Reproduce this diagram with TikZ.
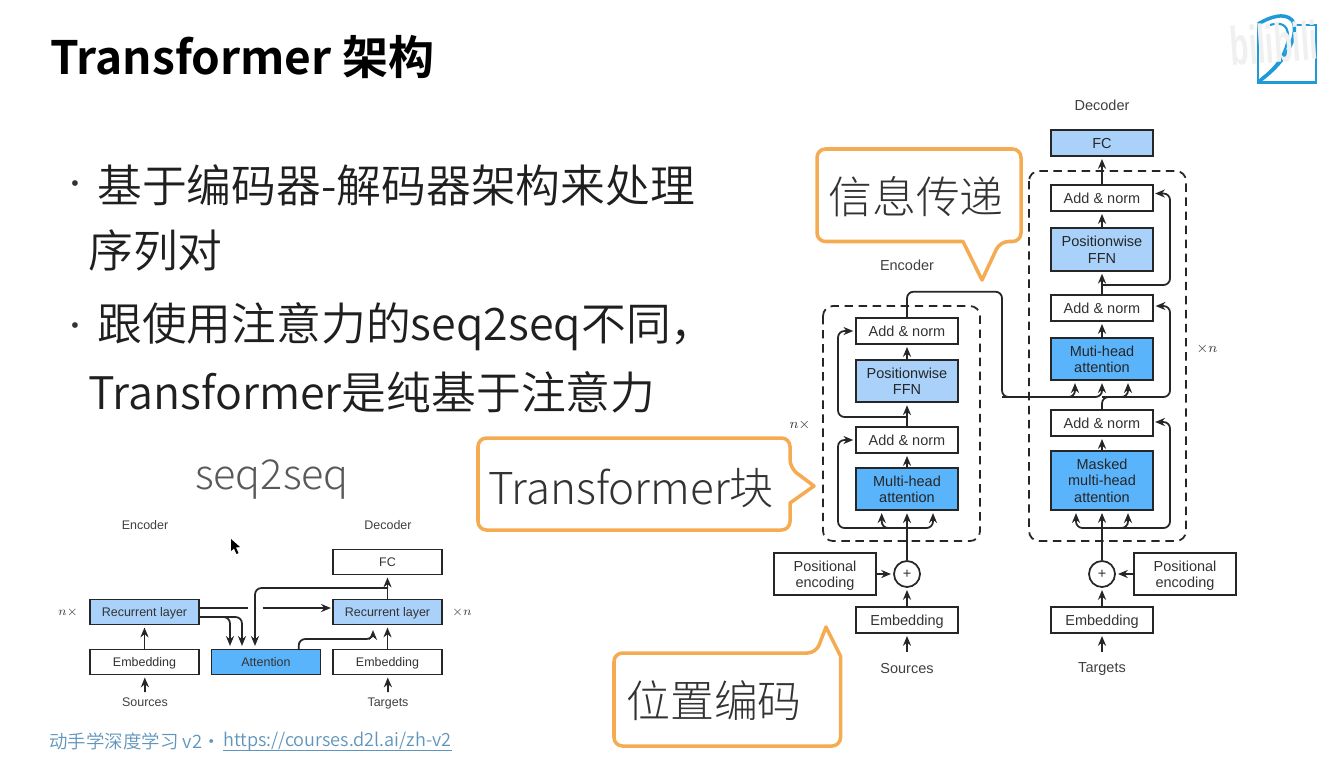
\documentclass[tikz,border=0pt]{standalone}
\usepackage{fontspec}
\usetikzlibrary{arrows.meta}
\setmainfont{Liberation Sans}
\newfontfamily\slidefont{Noto Sans CJK SC DemiLight}
\newfontfamily\boldfont{Noto Sans CJK SC Bold}
\newfontfamily\thinfont{Noto Sans CJK SC Light}
\definecolor{boxlight}{HTML}{A9D1FA}
\definecolor{boxdark}{HTML}{5AB4FC}
\definecolor{calloutc}{HTML}{F5AB52}
\definecolor{linkc}{HTML}{5F95BC}
\definecolor{logoc}{HTML}{1E9AD8}
\tikzset{
	wire/.style={line width=1pt, draw=black!85, rounded corners=0.13cm},
	arr/.style={wire, -{Stealth[length=5.6pt,width=4.6pt]}, shorten >=1.2pt},
	box/.style={draw=black!85, fill=white, line width=1pt, minimum width=2.03cm, minimum height=0.52cm, inner sep=0pt, align=center, text=black!80, text depth=0pt, font=\fontsize{8.25}{9.4}\selectfont},
	boxone/.style={box, fill=boxlight, text=black!85},
	boxtwo/.style={box, fill=boxdark, text=black!85},
	sbox/.style={box, minimum width=2.18cm, minimum height=0.5cm, font=\fontsize{7.1}{8.5}\selectfont},
	label/.style={inner sep=0pt, text=black!75, text depth=0pt, font=\fontsize{8.25}{9.4}\selectfont},
	slabel/.style={label, font=\fontsize{7.1}{8.5}\selectfont},
	dashbox/.style={line width=1pt, draw=black!85, dash pattern=on 4.8pt off 3.2pt, rounded corners=0.2cm},
	callout/.style={line width=2pt, draw=calloutc, fill=white, line join=round},
	calltext/.style={inner sep=0pt, text=black!80, font=\thinfont\fontsize{25}{30}\selectfont},
	slide/.style={anchor=west, inner sep=0pt, text=black!88, font=\slidefont\fontsize{25.5}{30}\selectfont},
	bulletdot/.style={inner sep=0pt, text=black!80, font=\fontsize{12}{14}\selectfont}
}

\begin{document}
\begin{tikzpicture}[x=0.02cm,y=-0.02cm]
	\useasboundingbox[fill=white] (0,0) rectangle (1339,758);
	
	%%%%% slide text %%%%%
	\node[slide, font=\boldfont\fontsize{26.2}{30}\selectfont, text=black] (title) at (50,57) {Transformer 架构};
	\node[bulletdot] (dot1) at (75,186) {•};
	\node[slide] (line1) at (97,185) {基于编码器-解码器架构来处理};
	\node[slide] (line2) at (88,250) {序列对};
	\node[bulletdot] (dot2) at (75,328) {•};
	\node[slide] (line3) at (97,327) {跟使用注意力的seq2seq不同，};
	\node[slide] (line4) at (88,392) {Transformer是纯基于注意力};
	\node[calltext, text=black!65, font=\thinfont\fontsize{23.5}{28}\selectfont] (seqtitle) at (272,479) {seq2seq};
	\node[slide, text=linkc, font=\slidefont\fontsize{10.5}{12}\selectfont] (foot) at (49,741) {动手学深度学习 v2・};
	\node[slide, text=linkc, font=\slidefont\fontsize{10.3}{12}\selectfont] (foot-url) at (223,741) {https://courses.d2l.ai/zh-v2};
	\draw[draw=linkc, line width=0.5pt] (foot-url.south west) -- (foot-url.south east);
	
	%%%%% seq2seq figure %%%%%
	\node[slabel] (s-enc) at (145,525) {Encoder};
	\node[slabel] (s-dec) at (388,525) {Decoder};
	\node[slabel] (s-n1) at (68,612) {\(n\times\)};
	\node[slabel] (s-n2) at (462,612) {\(\times n\)};
	\node[sbox, fill=boxlight] (s-rec1) at (144.5,612) {Recurrent layer};
	\node[sbox] (s-emb1) at (144.5,662) {Embedding};
	\node[sbox, fill=boxdark] (s-att) at (266,662) {Attention};
	\node[sbox] (s-fc) at (387.5,562) {FC};
	\node[sbox, fill=boxlight] (s-rec2) at (387.5,612) {Recurrent layer};
	\node[sbox] (s-emb2) at (387.5,662) {Embedding};
	\node[slabel] (s-src) at (145,702) {Sources};
	\node[slabel] (s-tgt) at (388,702) {Targets};
	
	\coordinate (s-in1) at (145,692);
	\coordinate (s-in2) at (388,692);
	\draw[arr] (s-in1) -- (s-emb1);
	\draw[arr] (s-in2) -- (s-emb2);
	\draw[arr] (s-emb1) -- (s-rec1);
	\draw[arr] (s-emb2) -- (s-rec2);
	\draw[arr] (s-rec2) -- (s-fc);
	
	\coordinate (s-o1) at (199,608);
	\coordinate (s-o2) at (248,608);
	\coordinate (s-o3) at (262.5,608);
	\coordinate (s-o4) at (333,608);
	\coordinate (s-o5) at (199,617);
	\coordinate (s-a1) at (230,648);
	\coordinate (s-a2) at (242,648);
	\coordinate (s-a3) at (255,648);
	\coordinate (s-b1) at (388,588);
	\coordinate (s-c1) at (298.7,650);
	\coordinate (s-c2) at (298.7,639);
	\coordinate (s-c3) at (373,628);
	\draw[wire] (s-o1) -- (s-o2);
	\draw[arr] (s-o3) -- (s-o4);
	\draw[arr] (s-o5) -| (s-a1);
	\draw[arr] (s-o5) -| (s-a2);
	\draw[arr] (s-b1) -| (s-a3);
	\draw[arr] (s-c1) -- (s-c2) -| (s-c3);
	
	\fill[black] (231,539) -- (231,551) -- (234,548.5) -- (236.5,554) -- (238.5,553) -- (236,547.5) -- (240,547) -- cycle;
	
	%%%%% transformer encoder %%%%%
	\draw[dashbox] (823,306) rectangle (980,541);
	\draw[dashbox] (1029,171) rectangle (1186,541);
	
	\node[label] (enc-name) at (907,265) {Encoder};
	\node[label] (dec-name) at (1102,105) {Decoder};
	\node[label, font=\fontsize{8}{9}\selectfont] (enc-n) at (800,424) {\(n\times\)};
	\node[label, font=\fontsize{8}{9}\selectfont] (dec-n) at (1207,348) {\(\times n\)};
	
	\node[box] (enc-add1) at (907,331) {Add \& norm};
	\node[boxone, minimum height=0.85cm] (enc-ffn) at (907,381) {Positionwise\\FFN};
	\node[box] (enc-add2) at (907,440) {Add \& norm};
	\node[boxtwo, minimum height=0.85cm] (enc-mha) at (907,489) {Multi-head\\attention};
	\node[box, circle, minimum width=0.52cm, minimum height=0.52cm] (enc-plus) at (907,574) {+};
	\node[box, minimum height=0.85cm] (enc-pos) at (825,574) {Positional\\encoding};
	\node[box] (enc-emb) at (907,620) {Embedding};
	\node[label] (enc-src) at (907,668) {Sources};
	
	\coordinate (enc-in) at (907,652);
	\coordinate (enc-rail) at (907,528);
	\coordinate (enc-l) at (881.7,511);
	\coordinate (enc-r) at (933,511);
	\coordinate (enc-side2) at (838,440);
	\coordinate (enc-rail2) at (907,417);
	\coordinate (enc-side1) at (838,331);
	
	\draw[arr] (enc-in) -- (enc-emb);
	\draw[arr] (enc-emb) -- (enc-plus);
	\draw[arr] (enc-pos) -- (enc-plus);
	\draw[arr] (enc-plus) -- (enc-mha);
	\draw[arr] (enc-mha) -- (enc-add2);
	\draw[arr] (enc-add2) -- (enc-ffn);
	\draw[arr] (enc-ffn) -- (enc-add1);
	\draw[arr] (enc-rail) -| (enc-l);
	\draw[arr] (enc-rail) -| (enc-r);
	\draw[arr] (enc-rail) -| (enc-side2) -- (enc-add2);
	\draw[arr] (enc-rail2) -| (enc-side1) -- (enc-add1);
	
	%%%%% transformer decoder %%%%%
	\node[boxone] (dec-fc) at (1102,143) {FC};
	\node[box] (dec-add1) at (1102,198) {Add \& norm};
	\node[boxone, minimum height=0.85cm] (dec-ffn) at (1102,249.5) {Positionwise\\FFN};
	\node[box] (dec-add2) at (1102,308) {Add \& norm};
	\node[boxtwo, minimum height=0.85cm] (dec-mha) at (1102,359) {Muti-head\\attention};
	\node[box] (dec-add3) at (1102,423) {Add \& norm};
	\node[boxtwo, minimum height=1.18cm] (dec-mask) at (1102,480.5) {Masked\\multi-head\\attention};
	\node[box, circle, minimum width=0.52cm, minimum height=0.52cm] (dec-plus) at (1102,574) {+};
	\node[box, minimum height=0.85cm] (dec-pos) at (1185,574) {Positional\\encoding};
	\node[box] (dec-emb) at (1102,620) {Embedding};
	\node[label] (dec-tgt) at (1102,668) {Targets};
	
	\coordinate (dec-in) at (1102,652);
	\coordinate (dec-rail1) at (1102,528);
	\coordinate (dec-l1) at (1076,511);
	\coordinate (dec-r1) at (1128,511);
	\coordinate (dec-side3) at (1170,422);
	\coordinate (dec-end3) at (1153,422);
	\coordinate (dec-rail2) at (1102,397);
	\coordinate (dec-l2) at (1075,381);
	\coordinate (dec-m2) at (1102,381);
	\coordinate (dec-r2) at (1128,381);
	\coordinate (dec-side2) at (1170,306);
	\coordinate (dec-end2) at (1153.5,306);
	\coordinate (dec-rail3) at (1102,285);
	\coordinate (dec-side1) at (1170,193.5);
	\coordinate (dec-end1) at (1153,193.5);
	
	\draw[arr] (dec-in) -- (dec-emb);
	\draw[arr] (dec-emb) -- (dec-plus);
	\draw[arr] (dec-pos) -- (dec-plus);
	\draw[arr] (dec-plus) -- (dec-mask);
	\draw[arr] (dec-mask) -- (dec-add3);
	\draw[arr] (dec-add2) -- (dec-ffn);
	\draw[arr] (dec-ffn) -- (dec-add1);
	\draw[arr] (dec-add1) -- (dec-fc);
	\draw[arr] (dec-mha) -- (dec-add2);
	\draw[arr] (dec-rail1) -| (dec-l1);
	\draw[arr] (dec-rail1) -| (dec-r1);
	\draw[arr] (dec-rail1) -| (dec-side3) -- (dec-end3);
	\draw[arr] (dec-rail3) -| (dec-side1) -- (dec-end1);
	\draw[arr] (dec-add3.north) -- (dec-rail2) -| (dec-side2) -- (dec-end2);
	\draw[arr] (dec-rail2) -| (dec-r2);
	
	\coordinate (pass-a) at (907,291.7);
	\coordinate (pass-b) at (1002,291.7);
	\coordinate (pass-c) at (1002,397);
	\draw[arr] (enc-add1.north) -- (pass-a) -- (pass-b) -- (pass-c) -| (dec-m2);
	\draw[arr] (pass-c) -| (dec-l2);
	
	%%%%% callouts %%%%%
	\draw[callout, rounded corners=0.17cm] (817,149) -- (1021,149) -- (1021,241.5) -- (1000,241.5) [sharp corners] -- (982,280) -- (963,241.5) [rounded corners=0.17cm] -- (817,241.5) -- cycle;
	\node[calltext] (call-info) at (916,197) {信息传递};
	\draw[callout, rounded corners=0.17cm] (478,438) -- (790,438) -- (790,468) [sharp corners] -- (814,486) -- (790,503) [rounded corners=0.17cm] -- (790,530) -- (478,530) -- cycle;
	\node[calltext] (call-block) at (631,488) {Transformer块};
	\draw[callout, rounded corners=0.17cm] (614,653) -- (816,653) [sharp corners] -- (826,627) -- (840.5,656) [rounded corners=0.17cm] -- (840.5,746) -- (614,746) -- cycle;
	\node[calltext] (call-pos) at (714,701) {位置编码};
	
	%%%%% logo %%%%%
	\draw[line width=1.5pt, draw=logoc] (1296,25) -- (1316,25) -- (1316,82.5) -- (1258,82.5) -- (1258,24);
	\draw[line width=2pt, draw=logoc] (1258,24) .. controls (1270,17) and (1284,12) .. (1292,20) .. controls (1299,30) and (1292,58) .. (1258,82);
	\draw[line width=1.2pt, draw=logoc] (1270,25) .. controls (1280,22) and (1288,24) .. (1288,36) .. controls (1287,52) and (1276,68) .. (1262,78);
	\node[inner sep=0pt, rotate=4, xscale=0.56, text=black!6, font=\bfseries\fontsize{31}{34}\selectfont] (mark) at (1274,43) {bilibili};
\end{tikzpicture}
\end{document}
